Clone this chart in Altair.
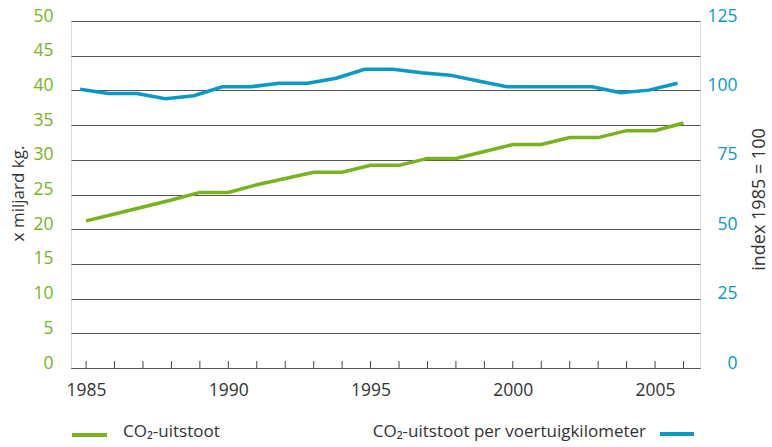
import altair as alt
import pandas as pd

# ---- data ----
years = list(range(1985, 2007))
co2_uitstoot = [21.2, 22.2, 23.2, 24.2, 25.3, 25.3, 26.4, 27.3, 28.2, 28.2, 29.2,
                29.2, 30.2, 30.2, 31.2, 32.2, 32.2, 33.2, 33.2, 34.2, 34.2, 35.3]
co2_per_km = [100.4, 98.9, 98.9, 97.0, 98.1, 101.3, 101.3, 102.6, 102.6, 104.4, 107.6,
              107.6, 106.4, 105.5, 103.4, 101.3, 101.3, 101.3, 101.3, 99.2, 100.1, 102.6]
x_labels = [1985, 1990, 1995, 2000, 2005]
left_ticks = [0, 5, 10, 15, 20, 25, 30, 35, 40, 45, 50]
right_ticks = [0, 25, 50, 75, 100, 125]
legend_labels = ["CO₂-uitstoot", "CO₂-uitstoot per voertuigkilometer"]

df = pd.DataFrame({"jaar": years, "co2": co2_uitstoot, "idx": co2_per_km})

FONT = "Open Sans"
GREEN = "#78b21e"
BLUE = "#0a98c5"
TEXT = "#333333"
GRID = "#555555"

W, H = 629, 347
xscale = alt.Scale(domain=[1984.47, 2006.58], nice=False, zero=False)
x_axis = alt.Axis(values=x_labels, format="d", ticks=False, grid=False,
                  domainColor=GRID, domainWidth=1, labelFont=FONT,
                  labelFontSize=17.5, labelColor=TEXT, labelPadding=13,
                  title=None)

base = alt.Chart(df)

green = base.mark_line(color=GREEN, strokeWidth=3.5).encode(
    x=alt.X("jaar:Q", scale=xscale, axis=x_axis),
    y=alt.Y("co2:Q", scale=alt.Scale(domain=[0, 50], nice=False, zero=True),
            axis=alt.Axis(values=left_ticks, ticks=False, domain=False, grid=True,
                          gridColor=GRID, gridWidth=1, labelColor=GREEN,
                          labelFont=FONT, labelFontSize=17.5, labelPadding=18,
                          labelOffset=-5, title="x miljard kg.", titleFont=FONT,
                          titleFontSize=17, titleFontWeight="normal", titleColor=TEXT,
                          titleX=-53, titleY=172, titleAngle=270, titleAlign="center",
                          titleBaseline="middle")),
)

blue = base.transform_calculate(jaar_v="datum.jaar - 0.21").mark_line(
    color=BLUE, strokeWidth=3.5).encode(
    x=alt.X("jaar_v:Q", scale=xscale, axis=x_axis),
    y=alt.Y("idx:Q", scale=alt.Scale(domain=[0, 125], nice=False, zero=True),
            axis=alt.Axis(orient="right", values=right_ticks, ticks=False, domain=False,
                          grid=False, labelColor=BLUE, labelFont=FONT, labelFontSize=17.5,
                          labelAlign="right", labelPadding=37, labelOffset=-5,
                          title="index 1985 = 100", titleFont=FONT, titleFontSize=18,
                          titleFontWeight="normal", titleColor=TEXT, titleX=59,
                          titleY=178, titleAngle=270, titleAlign="center",
                          titleBaseline="middle")),
)

ticks = base.mark_rule(color="#444444", strokeWidth=1).encode(
    x=alt.X("jaar:Q", scale=xscale, axis=x_axis),
    y=alt.value(H - 7),
    y2=alt.value(H),
)

leg_green = pd.DataFrame({"label": [legend_labels[0]]})
leg_blue = pd.DataFrame({"label": [legend_labels[1]]})

g_swatch = alt.Chart(leg_green).mark_rule(color=GREEN, strokeWidth=4).encode(
    x=alt.value(1), x2=alt.value(36), y=alt.value(414))
g_text = alt.Chart(leg_green).mark_text(
    align="left", baseline="middle", font=FONT, fontSize=17, color=TEXT).encode(
    x=alt.value(52), y=alt.value(411), text="label:N")
b_swatch = alt.Chart(leg_blue).mark_rule(color=BLUE, strokeWidth=4).encode(
    x=alt.value(589), x2=alt.value(623), y=alt.value(413))
b_text = alt.Chart(leg_blue).mark_text(
    align="right", baseline="middle", font=FONT, fontSize=17, color=TEXT).encode(
    x=alt.value(575), y=alt.value(411), text="label:N")

chart = alt.layer(green, blue, ticks, g_swatch, g_text, b_swatch, b_text).resolve_scale(
    y="independent"
).properties(
    width=W, height=H,
    autosize=alt.AutoSizeParams(type="none"),
    padding={"left": 71, "top": 21, "right": 72, "bottom": 79},
).configure_view(stroke=None).configure(background="white")

chart.save("out.html", embed_options={"renderer": "svg", "actions": False})
